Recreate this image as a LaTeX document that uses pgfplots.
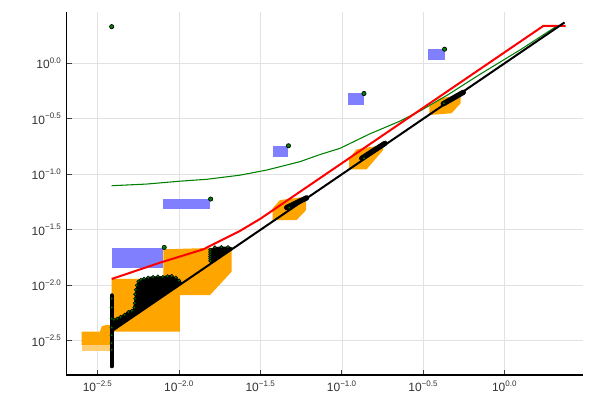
\documentclass[border=0pt]{standalone}
\usepackage{fontspec}
\setmainfont{Liberation Sans}
\usepackage{pgfplots}
\pgfplotsset{compat=1.18}
\definecolor{myorange}{HTML}{FFA500}
\definecolor{myblue}{HTML}{8080FF}
\definecolor{mygreen}{HTML}{008000}
\definecolor{gridgray}{HTML}{E2E2E2}
\begin{document}
\begin{tikzpicture}[x=1pt,y=1pt]
\path[use as bounding box] (-49.7,-18.75) rectangle (400.3,281.25);
\begin{axis}[at={(0,0)}, anchor=south west, scale only axis,
  width=387.5pt, height=272.25pt,
  xmin=-2.693, xmax=0.481, ymin=-2.808, ymax=0.462,
  axis x line*=bottom, axis y line*=left,
  xtick={-2.5,-2,-1.5,-1,-0.5,0}, ytick={-2.5,-2,-1.5,-1,-0.5,0},
  xticklabels={10\textsuperscript{−2.5},10\textsuperscript{−2.0},10\textsuperscript{−1.5},10\textsuperscript{−1.0},10\textsuperscript{−0.5},10\textsuperscript{0.0}},
  yticklabels={10\textsuperscript{−2.5},10\textsuperscript{−2.0},10\textsuperscript{−1.5},10\textsuperscript{−1.0},10\textsuperscript{−0.5},10\textsuperscript{0.0}},
  tick label style={font=\fontsize{9}{10}\selectfont, text=black!80},
  xticklabel style={yshift=-1pt},
  grid=major, major grid style={gridgray, line width=0.5pt},
  tick align=inside, major tick length=4pt,
  tick style={black!75, line width=0.6pt},
  axis line style={black, line width=0.8pt},
  dot/.style={only marks, mark=*, mark size=1.6pt, mark options={fill=mygreen, draw=black, line width=0.5pt}},
  sdot/.style={only marks, mark=*, mark size=1.2pt, mark options={fill=mygreen, draw=black, line width=0.4pt}},
]
% orange areas
\addplot[fill=myorange, draw=none] coordinates {(-2.598,-2.418) (-2.486,-2.418) (-2.475,-2.37) (-2.45,-2.358) (-2.414,-2.358) (-2.414,-2.538) (-2.598,-2.538)} -- cycle;
\addplot[fill=myorange!55, draw=none] coordinates {(-2.598,-2.538) (-2.414,-2.538) (-2.414,-2.589) (-2.598,-2.589)} -- cycle;
\addplot[fill=myorange, draw=none] coordinates {(-2.414,-1.943) (-2.097,-1.943) (-2.097,-1.676) (-1.677,-1.658) (-1.677,-1.877) (-1.810,-2.088) (-1.995,-2.088) (-1.995,-2.418) (-2.414,-2.418)} -- cycle;
\addplot[fill=myorange, draw=none] coordinates {(-1.425,-1.306) (-1.380,-1.232) (-1.220,-1.202) (-1.220,-1.323) (-1.278,-1.412) (-1.425,-1.412)} -- cycle;
\addplot[fill=myorange, draw=none] coordinates {(-0.955,-0.856) (-0.909,-0.775) (-0.746,-0.736) (-0.746,-0.781) (-0.848,-0.955) (-0.955,-0.955)} -- cycle;
\addplot[fill=myorange, draw=none] coordinates {(-0.463,-0.391) (-0.397,-0.315) (-0.270,-0.286) (-0.270,-0.360) (-0.326,-0.450) (-0.463,-0.466)} -- cycle;
% blue rectangles
\addplot[fill=myblue, draw=none] coordinates {(-2.414,-1.667) (-2.097,-1.667) (-2.097,-1.847) (-2.414,-1.847)} -- cycle;
\addplot[fill=myblue, draw=none] coordinates {(-2.097,-1.225) (-1.810,-1.225) (-1.810,-1.315) (-2.097,-1.315)} -- cycle;
\addplot[fill=myblue, draw=none] coordinates {(-1.425,-0.745) (-1.329,-0.745) (-1.329,-0.841) (-1.425,-0.841)} -- cycle;
\addplot[fill=myblue, draw=none] coordinates {(-0.961,-0.270) (-0.864,-0.270) (-0.864,-0.376) (-0.961,-0.376)} -- cycle;
\addplot[fill=myblue, draw=none] coordinates {(-0.469,0.126) (-0.367,0.126) (-0.367,0.030) (-0.469,0.030)} -- cycle;
% dense scatter regions
\addplot[fill=black, draw=black, line width=0.5pt] coordinates {(-2.414,-2.414) (-1.98,-1.98) (-1.995,-1.96) (-2.02,-1.93) (-2.056,-1.912) (-2.117,-1.922) (-2.179,-1.925) (-2.220,-1.943) (-2.251,-1.965) (-2.266,-2.04) (-2.271,-2.12) (-2.281,-2.215) (-2.312,-2.235) (-2.363,-2.285) (-2.404,-2.31) (-2.414,-2.33)} -- cycle;
\addplot[fill=black, draw=black, line width=0.5pt] coordinates {(-1.809,-1.809) (-1.667,-1.667) (-1.69,-1.655) (-1.73,-1.655) (-1.769,-1.656) (-1.805,-1.672)} -- cycle;
\addplot[black, line width=3pt, line cap=round] coordinates {(-2.414,-2.09) (-2.414,-2.73)};
\addplot[black, line width=4pt, line cap=round] coordinates {(-1.339,-1.300) (-1.216,-1.212)};
\addplot[black, line width=4pt, line cap=round] coordinates {(-0.878,-0.856) (-0.735,-0.721)};
\addplot[black, line width=4pt, line cap=round] coordinates {(-0.377,-0.365) (-0.254,-0.262)};
\addplot[sdot] coordinates {(-2.40,-2.31) (-2.38,-2.30) (-2.36,-2.285) (-2.335,-2.265) (-2.312,-2.24) (-2.29,-2.23) (-2.275,-2.2) (-2.272,-2.16) (-2.27,-2.12) (-2.27,-2.08) (-2.266,-2.04) (-2.26,-2.0) (-2.25,-1.965) (-2.235,-1.95) (-2.215,-1.94) (-2.19,-1.93) (-2.16,-1.925) (-2.13,-1.92) (-2.10,-1.925) (-2.07,-1.918) (-2.045,-1.915) (-2.02,-1.93) (-2.0,-1.955)
 (-2.414,-2.12) (-2.414,-2.2) (-2.414,-2.3) (-2.414,-2.38) (-2.414,-2.45) (-2.414,-2.52) (-2.414,-2.58)
 (-1.809,-1.68) (-1.809,-1.70) (-1.809,-1.72) (-1.809,-1.74) (-1.809,-1.76) (-1.809,-1.78) (-1.78,-1.658) (-1.74,-1.655) (-1.70,-1.656)
 (-1.323,-1.301) (-0.864,-0.856) (-0.373,-0.360)};
% isolated points
\addplot[dot] coordinates {(-2.414,0.330) (-2.091,-1.659) (-1.806,-1.223) (-1.328,-0.743) (-0.864,-0.272) (-0.369,0.127)};
% lines
\addplot[mygreen, line width=0.8pt] coordinates {(-2.414,-1.103) (-2.2,-1.088) (-1.994,-1.062) (-1.830,-1.045) (-1.626,-1.008) (-1.462,-0.962) (-1.257,-0.886) (-1.134,-0.822) (-1.011,-0.766) (-0.827,-0.635) (-0.643,-0.521) (-0.520,-0.430) (-0.35,-0.285) (-0.152,-0.10) (0.1,0.125) (0.319,0.334) (0.370,0.336)};
\addplot[red, line width=1.5pt] coordinates {(-2.414,-1.943) (-2.117,-1.796) (-1.851,-1.676) (-1.626,-1.51) (-1.5,-1.40) (0.237,0.336) (0.375,0.336)};
\addplot[black, line width=1.5pt] coordinates {(-2.414,-2.414) (0.368,0.368)};
\end{axis}
\end{tikzpicture}
\end{document}
